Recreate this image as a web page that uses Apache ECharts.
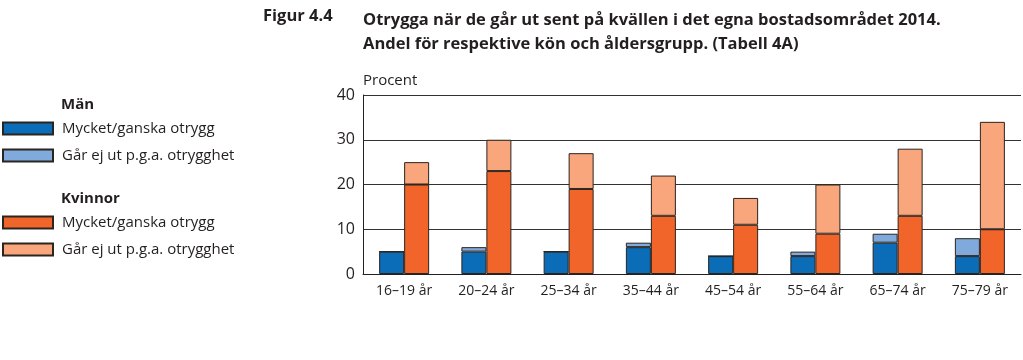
<!DOCTYPE html>
<html><head><meta charset="utf-8">
<script src="https://cdn.jsdelivr.net/npm/echarts@6/dist/echarts.min.js"></script>
<style>html,body{margin:0;padding:0;background:#fff}#c{width:1023px;height:360px}</style>
</head><body><div id="c"></div>
<script>
const categories = ['16–19 år','20–24 år','25–34 år','35–44 år','45–54 år','55–64 år','65–74 år','75–79 år'];
const menOtrygg = [5, 5, 5, 6, 4, 4, 7, 4];
const menGarEjUt = [0, 1, 0, 1, 0, 1, 2, 4];
const womenOtrygg = [20, 23, 19, 13, 11, 9, 13, 10];
const womenGarEjUt = [5, 7, 8, 9, 6, 11, 15, 24];
const yTicks = [0, 10, 20, 30, 40];
const seriesNames = ['Mycket/ganska otrygg', 'Går ej ut p.g.a. otrygghet'];

const FONT = '"Open Sans", Roboto, sans-serif';
const TXT = '#231f20';
const colors = {mo:'#0b6cb7', mg:'#80a9dc', wo:'#f1652a', wg:'#f9a67c'};

const chart = echarts.init(document.getElementById('c'), null, {renderer:'canvas'});
function bar(name, stack, data, color){
  return {type:'bar', name:name, stack:stack, data:data, barWidth:25, barGap:'0%',
    itemStyle:{color:color, borderColor:'#2b2520', borderWidth:1}, emphasis:{disabled:true}};
}
chart.setOption({
  animation:false,
  textStyle:{fontFamily:FONT},
  title:[
    {text:'Figur 4.4', left:258, top:3, textStyle:{fontFamily:FONT, fontSize:16.5, fontWeight:'bold', color:TXT}},
    {text:'Otrygga när de går ut sent på kvällen i det egna bostadsområdet 2014.\nAndel för respektive kön och åldersgrupp. (Tabell 4A)', left:358, top:3,
      textStyle:{fontFamily:FONT, fontSize:16.5, fontWeight:'bold', color:TXT, lineHeight:24}},
    {text:'Män', left:56, top:92, textStyle:{fontFamily:FONT, fontSize:15, fontWeight:'bold', color:TXT}},
    {text:'Kvinnor', left:56, top:186, textStyle:{fontFamily:FONT, fontSize:15, fontWeight:'bold', color:TXT}}
  ],
  legend:[
    {orient:'vertical', left:2, top:121, padding:0, itemWidth:50, itemHeight:12, itemGap:12, icon:'rect',
      data:[{name:seriesNames[0]+' ', itemStyle:{color:colors.mo}}, {name:seriesNames[1]+' ', itemStyle:{color:colors.mg}}],
      textStyle:{fontFamily:FONT, fontSize:15, color:TXT, lineHeight:14, padding:[0,0,0,4]}, selectedMode:false},
    {orient:'vertical', left:2, top:215, padding:0, itemWidth:50, itemHeight:12, itemGap:12, icon:'rect',
      data:[{name:seriesNames[0], itemStyle:{color:colors.wo}}, {name:seriesNames[1], itemStyle:{color:colors.wg}}],
      textStyle:{fontFamily:FONT, fontSize:15, color:TXT, lineHeight:14, padding:[0,0,0,4]}, selectedMode:false}
  ],
  grid:{left:363, right:2, top:95, bottom:86, containLabel:false},
  xAxis:{type:'category', data:categories, axisTick:{show:false},
    axisLine:{lineStyle:{color:'#222', width:1}},
    axisLabel:{fontFamily:FONT, fontSize:14, color:TXT, margin:10}},
  yAxis:{type:'value', min:yTicks[0], max:yTicks[yTicks.length-1], interval:10,
    name:'Procent', nameLocation:'end', nameGap:7,
    nameTextStyle:{fontFamily:FONT, fontSize:15, color:TXT, align:'left'},
    axisLine:{show:true, lineStyle:{color:'#222', width:1}}, axisTick:{show:false},
    axisLabel:{fontFamily:FONT, fontSize:16, color:TXT, margin:8},
    splitLine:{lineStyle:{color:'#333', width:1}}},
  series:[
    bar(seriesNames[0]+' ', 'men', menOtrygg, colors.mo),
    bar(seriesNames[1]+' ', 'men', menGarEjUt, colors.mg),
    bar(seriesNames[0], 'women', womenOtrygg, colors.wo),
    bar(seriesNames[1], 'women', womenGarEjUt, colors.wg)
  ]
});
</script></body></html>
